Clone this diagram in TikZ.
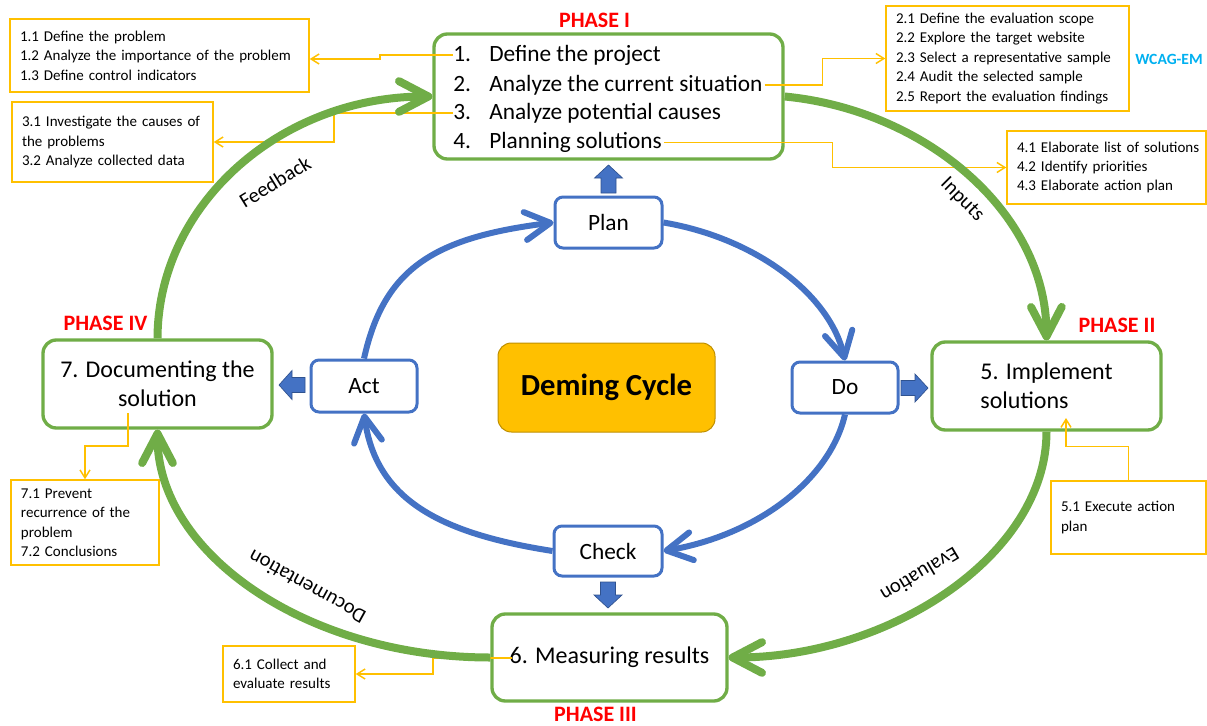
\documentclass[tikz,border=0pt]{standalone}
\usepackage{fontspec}
\setmainfont{Carlito}
\usetikzlibrary{arrows.meta}
\definecolor{G}{HTML}{70AD47}
\definecolor{B}{HTML}{4472C4}
\definecolor{BD}{HTML}{2F528F}
\definecolor{Y}{HTML}{FFC000}
\definecolor{YD}{HTML}{BF9000}
\definecolor{PR}{HTML}{FF0000}
\definecolor{CY}{HTML}{00B0F0}
\begin{document}
\begin{tikzpicture}[x=0.75pt,y=-0.75pt,
  phasebox/.style={draw=G, line width=2.5pt, rounded corners=10pt, fill=white, inner sep=0pt, font=\fontsize{18}{21.75}\selectfont},
  pdcabox/.style={draw=B, line width=2.25pt, rounded corners=6pt, fill=white, inner sep=0pt, font=\fontsize{17.5}{21}\selectfont},
  subbox/.style={draw=Y, line width=1.1pt, fill=white, inner xsep=7.5pt, inner ysep=2pt, align=left, font=\fontsize{11.25}{14.6}\selectfont},
  item/.style={anchor=west, inner sep=0pt, text height=12.5pt, text depth=3.5pt, font=\fontsize{17.5}{21}\selectfont},
  phaselbl/.style={text=PR, font=\fontsize{16.5}{20}\selectfont\bfseries, inner sep=0pt},
  flowlbl/.style={font=\fontsize{15.5}{18}\selectfont, inner sep=0pt},
  garrow/.style={draw=G, line width=6pt, -{Straight Barb[length=22pt,width=23pt,round]}},
  barrow/.style={draw=B, line width=4.5pt, -{Straight Barb[length=19pt,width=21pt,round]}},
  yarrow/.style={draw=Y, line width=1.1pt, -{Straight Barb[length=6pt,width=7.5pt]}},
  blockarr/.style={fill=B, draw=BD, line width=0.5pt},
  deming/.style={fill=Y, draw=YD, line width=0.75pt, rounded corners=10pt, inner sep=0pt, font=\fontsize{23}{27}\selectfont\bfseries}
]
\useasboundingbox (0,0) rectangle (1207,725);

% phase boxes
\node[phasebox, minimum width=261.75pt, minimum height=93.75pt] (p1) at (608.5,96.5) {};
\node[phasebox, minimum width=171.75pt, minimum height=66pt, align=left] (p2) at (1046.5,386) {5. Implement\\solutions};
\node[phasebox, minimum width=176.25pt, minimum height=65.25pt] (p3) at (609.5,657.5) {6. Measuring results};
\node[phasebox, minimum width=171.75pt, minimum height=66pt, align=center] (p4) at (157.5,384) {7. Documenting the\\solution};

% items of phase I
\node[item] (i1) at (453,55) {\makebox[27pt][l]{1.}Define the project};
\node[item] (i2) at (453,85) {\makebox[27pt][l]{2.}Analyze the current situation};
\node[item] (i3) at (453,113) {\makebox[27pt][l]{3.}Analyze potential causes};
\node[item] (i4) at (453,142.5) {\makebox[27pt][l]{4.}Planning solutions};

% phase labels
\node[phaselbl] (l1) at (594.5,20) {PHASE I};
\node[phaselbl] (l2) at (1117,325) {PHASE II};
\node[phaselbl] (l3) at (595.5,714) {PHASE III};
\node[phaselbl] (l4) at (105.5,323) {PHASE IV};
\node[text=CY, font=\fontsize{11.7}{14}\selectfont\bfseries, inner sep=0pt] (wcag) at (1169,59) {WCAG-EM};

% PDCA boxes
\node[pdcabox, minimum width=80.25pt, minimum height=38.25pt] (plan) at (608.5,222.5) {Plan};
\node[pdcabox, minimum width=79.5pt, minimum height=38.25pt] (do) at (845,387.5) {Do};
\node[pdcabox, minimum width=79.5pt, minimum height=39pt] (act) at (364,386) {Act};
\node[pdcabox, minimum width=81pt, minimum height=37.5pt] (check) at (608,551) {Check};
\node[deming, minimum width=162.75pt, minimum height=66.75pt] (dc) at (606.5,387.5) {Deming Cycle};

% sub boxes
\node[subbox, text width=209.25pt, minimum height=54.75pt] (b1) at (159.5,55.5) {\mbox{1.1 Define the problem}\\\mbox{1.2 Analyze the importance of the problem}\\\mbox{1.3 Define control indicators}};
\node[subbox, text width=135.75pt, minimum height=60pt] (b3) at (112.5,142) {\mbox{3.1 Investigate the causes of}\\\mbox{the problems}\\\mbox{3.2 Analyze collected data}};
\node[subbox, text width=167.25pt, minimum height=78.75pt] (b2) at (1007.5,58.5) {\mbox{2.1 Define the evaluation scope}\\\mbox{2.2 Explore the target website}\\\mbox{2.3 Select a representative sample}\\\mbox{2.4 Audit the selected sample}\\\mbox{2.5 Report the evaluation findings}};
\node[subbox, text width=134.25pt, minimum height=54.75pt] (b4) at (1106.5,167.5) {\mbox{4.1 Elaborate list of solutions}\\\mbox{4.2 Identify priorities}\\\mbox{4.3 Elaborate action plan}};
\node[subbox, text width=101.25pt, minimum height=54.75pt] (b5) at (1128.5,517.5) {\mbox{5.1 Execute action}\\\mbox{plan}};
\node[subbox, text width=84pt, minimum height=42pt] (b6) at (289,674) {\mbox{6.1 Collect and}\\\mbox{evaluate results}};
\node[subbox, text width=96pt, minimum height=63.75pt] (b7) at (85,522.5) {\mbox{7.1 Prevent}\\\mbox{recurrence of the}\\\mbox{problem}\\\mbox{7.2 Conclusions}};

% free ends of yellow connectors
\coordinate (c5e) at (1066,418);
\coordinate (c6s) at (512,658);
\coordinate (c7s) at (128,413);

% yellow connectors
\draw[yarrow] (i1.west) -- ++(-73,0) |- (b1.east |- 0,59);
\draw[yarrow] (i3.west) -- ++(-119,0) |- (b3.east);
\draw[yarrow] ([xshift=1.5pt]i2.east) -- ++(58,0) |- (b2.west);
\draw[yarrow] ([xshift=1.5pt]i4.east) -- ++(168,0) |- (b4.west);
\draw[yarrow] (b5.north) -- ++(0,-34) -| (c5e);
\draw[yarrow] (c6s) -- (433,658) |- (b6.east);
\draw[yarrow] (c7s) -- ++(0,33) -| (b7.north);

% green outer cycle
\draw[garrow] (p4.north) .. controls (158,204) and (281,96.5) .. (p1.west);
\draw[garrow] (p1.east) .. controls (925,110) and (1046,212) .. (p2.north);
\draw[garrow] (p2.south) .. controls (1046.5,555) and (890,657.5) .. (p3.east);
\draw[garrow] (p3.west) .. controls (308,657.5) and (157.5,554) .. (p4.south);

\node[flowlbl, rotate=31.6] (lfb) at (275,182) {Feedback};
\node[flowlbl, rotate=-45] (lin) at (962,200) {Inputs};
\node[flowlbl, rotate=-149.3] (lev) at (920,575) {Evaluation};
\node[flowlbl, rotate=151] (ldoc) at (307,587) {Documentation};

% blue inner cycle
\draw[barrow] (plan.east) .. controls +(94,16) and +(-15,-65) .. (do.north);
\draw[barrow] (do.south) .. controls +(-15,65) and +(94,-16) .. (check.east);
\draw[barrow] (check.west) .. controls +(-115,-18) and +(12,85) .. (act.south);
\draw[barrow] (act.north) .. controls +(20,-90) and +(-120,15) .. (plan.west);

% block arrows
\filldraw[blockarr] (601,193) -- (601,178) -- (594.5,178) -- (608.5,165) -- (622.5,178) -- (616,178) -- (616,193) -- cycle;
\filldraw[blockarr] (600.5,582) -- (615.5,582) -- (615.5,595) -- (622,595) -- (608,608) -- (594,595) -- (600.5,595) -- cycle;
\filldraw[blockarr] (305,377.5) -- (292,377.5) -- (292,370.5) -- (279,385) -- (292,399.5) -- (292,392.5) -- (305,392.5) -- cycle;
\filldraw[blockarr] (901,380.5) -- (915,380.5) -- (915,374) -- (928,388) -- (915,402) -- (915,395.5) -- (901,395.5) -- cycle;
\end{tikzpicture}
\end{document}
